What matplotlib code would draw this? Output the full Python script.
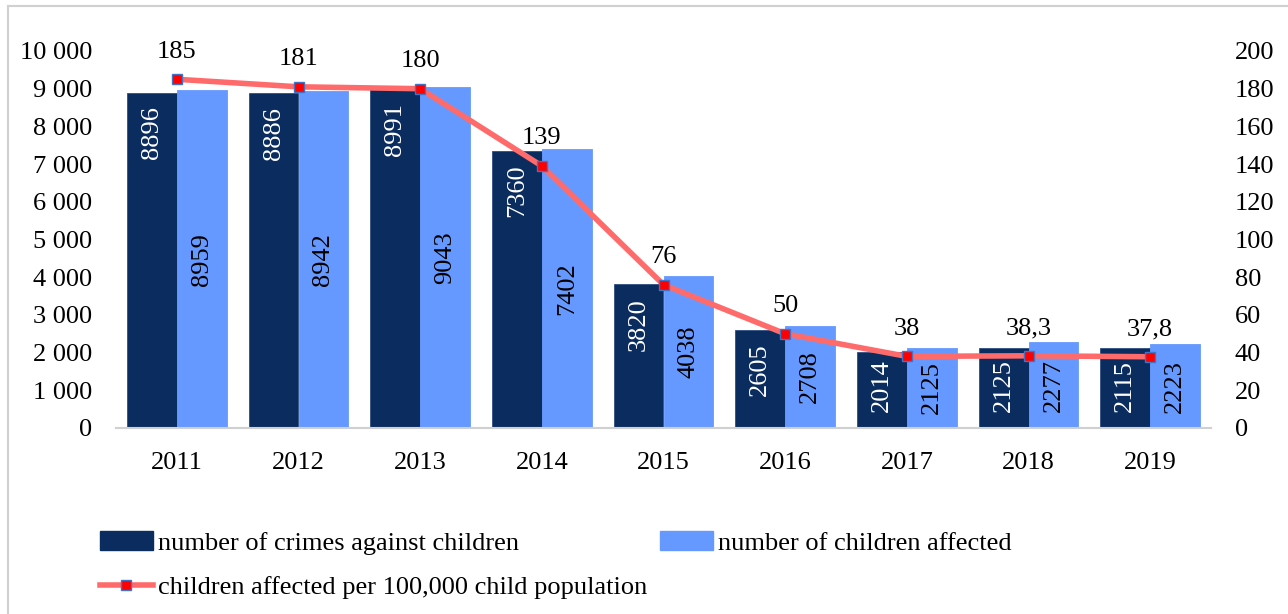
import matplotlib
matplotlib.use("Agg")
import matplotlib.pyplot as plt
import numpy as np
from matplotlib.lines import Line2D
from matplotlib.patches import Patch
from matplotlib.ticker import FuncFormatter, MultipleLocator

years = ["2011", "2012", "2013", "2014", "2015", "2016", "2017", "2018", "2019"]
crimes = [8896, 8886, 8991, 7360, 3820, 2605, 2014, 2125, 2115]
affected = [8959, 8942, 9043, 7402, 4038, 2708, 2125, 2277, 2223]
rate = [185, 181, 180, 139, 76, 50, 38, 38.3, 37.8]
rate_labels = ["185", "181", "180", "139", "76", "50", "38", "38,3", "37,8"]

DARK = "#0B2C5F"
LIGHT = "#6699FF"
LINE = "#FF6B6B"

plt.rcParams['font.family'] = ['Liberation Serif', 'DejaVu Serif']
FS = 19

fig = plt.figure(figsize=(12.88, 6.14), dpi=100)
ax = fig.add_axes([116/1288, 1-428/614, (1211-116)/1288, (428-51)/614])
ax2 = ax.twinx()

x = np.arange(len(years))
w = 0.41
b1 = ax.bar(x - w/2, crimes, w, color=DARK, edgecolor="#2F4F80", linewidth=0.6, zorder=2)
b2 = ax.bar(x + w/2, affected, w, color=LIGHT, edgecolor=LIGHT, linewidth=0.6, zorder=2)

dark_labels = []
for xi, v in zip(x, crimes):
    t = ax.annotate(str(v), (xi - w/2, v), xytext=(0, -10), textcoords="offset points",
                    rotation=90, ha="center", va="top", color="white", fontsize=FS, zorder=3)
    dark_labels.append(t)
for xi, v in zip(x, affected):
    ax.text(xi + w/2, v/2, str(v), rotation=90, ha="center", va="center",
            color="black", fontsize=FS, zorder=3)

ax.set_xlim(-0.5, len(years) - 0.5)
ax.set_ylim(0, 10000)
ax.yaxis.set_major_locator(MultipleLocator(1000))
ax.yaxis.set_major_formatter(FuncFormatter(lambda v, p: f"{int(v):,}".replace(",", " ")))
ax.set_xticks(x)
ax.set_xticklabels(years)

ax2.set_ylim(0, 200)
ax2.yaxis.set_major_locator(MultipleLocator(20))
ax2.plot(x, rate, color=LINE, linewidth=4, marker="s", markersize=7,
         markerfacecolor="#FF0000", markeredgecolor="#4472C4", markeredgewidth=1, zorder=5)
for xi, v, lab in zip(x, rate, rate_labels):
    ax2.annotate(lab, (xi, v), xytext=(0, 12), textcoords="offset points",
                 ha="center", va="bottom", fontsize=FS, color="black")

for a in (ax, ax2):
    for s in ("top", "left", "right"):
        a.spines[s].set_visible(False)
    a.spines["bottom"].set_color("#D0D0D0")
    a.spines["bottom"].set_linewidth(1.5)
    a.tick_params(axis="both", length=0, labelsize=FS)
ax.tick_params(axis="y", pad=17)
ax2.tick_params(axis="y", pad=17)
ax.tick_params(axis="x", pad=17)
ax2.spines["bottom"].set_visible(False)

# legend
h1 = Patch(facecolor=DARK, edgecolor=DARK)
h2 = Patch(facecolor=LIGHT, edgecolor=LIGHT)
h3 = Line2D([0], [0], color=LINE, linewidth=4, marker="s", markersize=7,
            markerfacecolor="#FF0000", markeredgecolor="#4472C4")
common = dict(frameon=False, fontsize=FS, handlelength=2.0, handleheight=0.7,
              handletextpad=0.2, borderpad=0, borderaxespad=0, loc="center left")
l1 = fig.legend([h1], ["number of crimes against children"],
                bbox_to_anchor=(100/1288, 1-543/614), **common)
l2 = fig.legend([h2], ["number of children affected"],
                bbox_to_anchor=(660/1288, 1-543/614), **common)
l3 = fig.legend([h3], ["children affected per 100,000 child population"],
                bbox_to_anchor=(100/1288, 1-587/614), **common)

# chart frame border
fig.add_artist(Line2D([8/1288, 8/1288], [0, 1-6/614], transform=fig.transFigure,
                      color="#D0D0D0", linewidth=1.5))
fig.add_artist(Line2D([8/1288, 1], [1-6/614, 1-6/614], transform=fig.transFigure,
                      color="#D0D0D0", linewidth=1.5))

# keep dark-bar labels off the baseline for short bars
fig.canvas.draw()
renderer = fig.canvas.get_renderer()
base_px = ax.transData.transform((0, 0))[1]
min_gap = 16
for t in dark_labels:
    bb = t.get_window_extent(renderer)
    if bb.y0 < base_px + min_gap:
        shift_pt = (base_px + min_gap - bb.y0) * 72 / fig.dpi
        ox, oy = t.xyann
        t.xyann = (ox, oy + shift_pt)

fig.savefig("out.png", dpi=100)
